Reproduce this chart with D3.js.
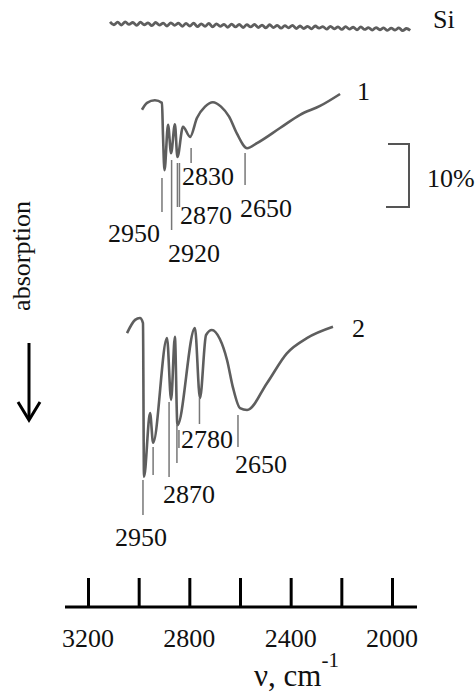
<!DOCTYPE html>
<html><head><meta charset="utf-8">
<script src="https://cdn.jsdelivr.net/npm/d3@7"></script>
<style>
html,body{margin:0;padding:0;background:#fff;}
svg{display:block;}
text{font-family:"Liberation Serif","DejaVu Serif",serif;}
</style></head>
<body>
<svg id="chart" width="475" height="693" font-family="Liberation Serif, DejaVu Serif, serif"></svg>
<script>
// ---------- data ----------
const axisTicks = [3200, 3000, 2800, 2600, 2400, 2200, 2000];
const axisTickLabels = ["3200", "", "2800", "", "2400", "", "2000"];
const axisTitle = "ν, cm";
const axisTitleSup = "-1";
const sideLabel = "absorption";
const scaleBarLabel = "10%";
const scaleBarValue = 10; // %

// Si reference trace (absorption %, relative)
const siStart = 3113, siStep = 15;
const siValues = [0.3,0.75,0.35,0.8,0.3,0.7,0.4,0.85,0.35,0.75,
  0.45,0.9,0.4,0.8,0.5,0.95,0.45,0.85,0.5,1.0,
  0.55,0.95,0.5,1.05,0.6,1.0,0.55,1.1,0.6,1.0,
  0.7,1.15,0.65,1.1,0.7,1.2,0.75,1.1,0.7,1.2,
  0.8,1.25,0.75,1.2,0.85,1.3,0.9,1.25,0.85,1.35,
  0.95,1.35,1.0,1.4,0.95,1.3,1.05,1.45,1.0,1.4,
  1.1,1.5,1.05,1.45,1.15,1.55,1.1,1.5,1.2,1.6,
  1.2,1.55,1.25,1.65,1.3,1.6,1.25,1.7,1.35,1.65];
const siLabel = "Si";

// Spectrum 1
const spec1Wn  = [2987,2967,2936,2908,2904,2898,2884,2872,2857,2847,2825,2797,2770,2738,2707,2675,2643,2612,2572,2533,2442,2363,2284,2205];
const spec1Abs = [2.5, 1.4, 1.0, 1.4, 6.5, 12.1,4.9, 9.4, 4.8, 10.0,5.2, 6.8, 3.8, 2.0, 1.3, 2.0, 3.6, 6.3, 8.6, 7.8, 5.4, 3.3, 1.9, 0.0];
const spec1Label = "1";
const spec1PeakWn = [2908, 2870, 2847, 2839, 2793, 2580];
const spec1PeakText = ["2950", "2920", "2870", "", "2830", "2650"];

// Spectrum 2
const spec2Wn  = [3046,3014,2995,2983,2979,2955,2943,2888,2872,2857,2847,2778,2758,2734,2711,2680,2651,2628,2600,2572,2493,2415,2336,2233];
const spec2Abs = [2.4, 0.3, 0.0, 0.8, 25.2,15.1,19.8,3.2, 13.0,3.0, 17.0,1.6, 12.7,2.7, 1.9, 3.3, 6.7, 11.0,14.3,14.6,10.3,5.6, 3.2, 1.4];
const spec2Label = "2";
const spec2PeakWn = [2983, 2943, 2880, 2849, 2841, 2760, 2608];
const spec2PeakText = ["2950", "", "2870", "", "", "2780", "2650"];

// ---------- layout ----------
const svg = d3.select("#chart");
const x = d3.scaleLinear().domain([3200, 2000]).range([88, 392]);
const y = d3.scaleLinear().domain([0, 10]).range([0, 63]); // % -> px
const traceColor = "#5e5e5e";
const fs = 26;
const FF = "Liberation Serif, DejaVu Serif, serif";

function txt(xp, yp, s, size) {
  return svg.append("text").attr("x", xp).attr("y", yp)
    .attr("font-family", FF).attr("font-size", size || fs).attr("fill", "#111").text(s);
}

function drawTrace(wn, vals, y0, width) {
  const line = d3.line()
    .x(d => x(d[0]))
    .y(d => y0 + y(d[1]))
    .curve(d3.curveMonotoneX);
  svg.append("path")
    .datum(wn.map((w, i) => [w, vals[i]]))
    .attr("d", line)
    .attr("fill", "none")
    .attr("stroke", traceColor)
    .attr("stroke-width", width)
    .attr("stroke-linejoin", "round");
}

// Si
const siWn = siValues.map((_, i) => siStart - i * siStep);
drawTrace(siWn, siValues, 20, 2.8);
txt(433, 28, siLabel);

// Spectrum 1
drawTrace(spec1Wn, spec1Abs, 94, 2.6);
txt(357, 100, spec1Label);
const s1Lines = [[178,212],[160,230],[163,207],[163,207],[148,163],[153,185]];
const s1Text  = [[108,242],[168,262],[180,224],null,[182,185],[240,217]];
spec1PeakWn.forEach((w, i) => {
  svg.append("line").attr("x1", x(w)).attr("x2", x(w))
    .attr("y1", s1Lines[i][0]).attr("y2", s1Lines[i][1])
    .attr("stroke", "#777").attr("stroke-width", 1.5);
  if (spec1PeakText[i]) txt(s1Text[i][0], s1Text[i][1], spec1PeakText[i]);
});

// Spectrum 2
drawTrace(spec2Wn, spec2Abs, 318, 2.6);
txt(352, 337, spec2Label);
const s2Lines = [[480,515],[447,475],[402,477],[425,463],[430,448],[398,424],[415,447]];
const s2Text  = [[115,546],null,[163,503],null,null,[181,448],[235,473]];
spec2PeakWn.forEach((w, i) => {
  svg.append("line").attr("x1", x(w)).attr("x2", x(w))
    .attr("y1", s2Lines[i][0]).attr("y2", s2Lines[i][1])
    .attr("stroke", "#777").attr("stroke-width", 1.5);
  if (spec2PeakText[i]) txt(s2Text[i][0], s2Text[i][1], spec2PeakText[i]);
});

// 10% scale bar
const sbTop = 144;
svg.append("path")
  .attr("d", `M388,${sbTop} H409 V${sbTop + y(scaleBarValue)} H386`)
  .attr("fill", "none").attr("stroke", "#555").attr("stroke-width", 2);
txt(427, 187, scaleBarLabel);

// absorption label + arrow
svg.append("text").attr("transform", "translate(30,256) rotate(-90)")
  .attr("font-family", FF).attr("fill", "#111")
  .attr("text-anchor", "middle").attr("font-size", fs).text(sideLabel);
svg.append("line").attr("x1", 29).attr("x2", 29).attr("y1", 343).attr("y2", 419)
  .attr("stroke", "#000").attr("stroke-width", 3);
svg.append("path").attr("d", "M18,402 L29,420 L40,402")
  .attr("fill", "none").attr("stroke", "#000").attr("stroke-width", 3);

// bottom axis
const axisY = 607;
const axis = d3.axisTop(x).tickValues(axisTicks).tickSize(29).tickFormat("");
const gAxis = svg.append("g").attr("transform", `translate(0,${axisY})`).call(axis);
gAxis.select(".domain").remove();
gAxis.selectAll(".tick line").attr("stroke", "#000").attr("stroke-width", 3);
svg.append("line").attr("x1", 65).attr("x2", 417).attr("y1", axisY).attr("y2", axisY)
  .attr("stroke", "#000").attr("stroke-width", 3);
axisTicks.forEach((t, i) => {
  if (axisTickLabels[i]) txt(x(t), 647, axisTickLabels[i]).attr("text-anchor", "middle");
});
const title = txt(254, 686, "", 31);
title.append("tspan").text(axisTitle);
title.append("tspan").attr("font-size", 21).attr("dy", -19).text(axisTitleSup);
</script>
</body></html>
